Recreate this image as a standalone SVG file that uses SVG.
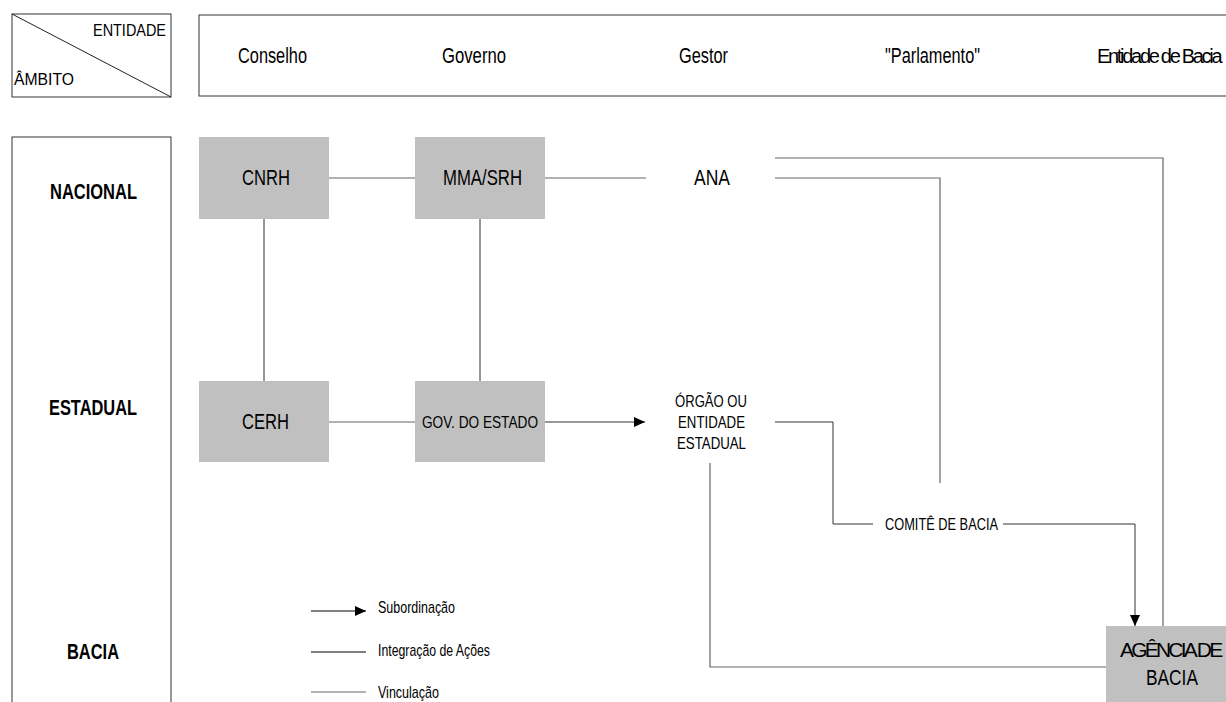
<svg xmlns="http://www.w3.org/2000/svg" width="1226" height="702" viewBox="0 0 1226 702">
<style>
.frame{fill:#fff;stroke:#333;stroke-width:1}
.box{fill:#c0c0c0;stroke:none}
.t{font-family:"Liberation Sans",Arial,sans-serif;fill:#000}
.h{font-size:22px}
.b{font-size:22px;font-weight:bold}
.n{font-size:22px}
.s{font-size:17px}
.c{fill:none;stroke:#666;stroke-width:1.2}
.k{fill:none;stroke:#333;stroke-width:1}
</style>
<defs>
<marker id="arr" markerUnits="userSpaceOnUse" markerWidth="12" markerHeight="10" refX="11" refY="5" orient="auto">
<path d="M0,0 L11,5 L0,10 Z" fill="#000"/>
</marker>
</defs>
<rect width="1226" height="702" fill="#fff"/>

<g id="corner">
<rect class="frame" x="12" y="14" width="159" height="83"/>
<line x1="12" y1="14" x2="171" y2="97" stroke="#222" stroke-width="1"/>
<text class="t s" x="93" y="36" textLength="73" lengthAdjust="spacingAndGlyphs">ENTIDADE</text>
<text class="t s" x="14" y="85" textLength="60" lengthAdjust="spacingAndGlyphs">ÂMBITO</text>
</g>

<g id="header">
<rect class="frame" x="199" y="15" width="1040" height="81"/>
<text class="t h" x="238" y="63" textLength="69" lengthAdjust="spacingAndGlyphs">Conselho</text>
<text class="t h" x="442" y="63" textLength="64" lengthAdjust="spacingAndGlyphs">Governo</text>
<text class="t h" x="679" y="63" textLength="49" lengthAdjust="spacingAndGlyphs">Gestor</text>
<text class="t h" x="885" y="63" textLength="95" lengthAdjust="spacingAndGlyphs">"Parlamento"</text>
<text class="t" x="1097" y="63" font-size="20" letter-spacing="-2.3">Entidade de Bacia</text>
</g>

<g id="ambito">
<rect class="frame" x="12" y="137" width="159" height="580"/>
<text class="t b" x="50" y="199" textLength="87" lengthAdjust="spacingAndGlyphs">NACIONAL</text>
<text class="t b" x="49" y="415" textLength="88" lengthAdjust="spacingAndGlyphs">ESTADUAL</text>
<text class="t b" x="67" y="659" textLength="52" lengthAdjust="spacingAndGlyphs">BACIA</text>
</g>

<g id="connectors">
<line class="c" x1="329" y1="178" x2="415" y2="178"/>
<line class="c" x1="545" y1="178" x2="646" y2="178"/>
<polyline class="c" points="775,178 940,178 940,483"/>
<polyline class="c" points="775,158 1163,158 1163,626"/>
<line class="k" x1="264" y1="219" x2="264" y2="381"/>
<line class="k" x1="480" y1="219" x2="480" y2="381"/>
<line class="c" x1="329" y1="422" x2="415" y2="422"/>
<line class="k" x1="545" y1="422" x2="645" y2="422" marker-end="url(#arr)"/>
<polyline class="k" points="775,422 833,422 833,524 873,524"/>
<polyline class="k" points="1003,524 1135,524 1135,626" marker-end="url(#arr)"/>
<polyline class="c" points="710,463 710,667 1106,667"/>
</g>

<g id="cnrh">
<rect class="box" x="199" y="137" width="130" height="82"/>
<text class="t n" x="242" y="185" textLength="48" lengthAdjust="spacingAndGlyphs">CNRH</text>
</g>
<g id="mma">
<rect class="box" x="415" y="137" width="130" height="82"/>
<text class="t n" x="443" y="185" textLength="79" lengthAdjust="spacingAndGlyphs">MMA/SRH</text>
</g>
<g id="ana">
<text class="t n" x="694" y="185" textLength="36" lengthAdjust="spacingAndGlyphs">ANA</text>
</g>
<g id="cerh">
<rect class="box" x="199" y="381" width="130" height="81"/>
<text class="t n" x="242" y="429" textLength="47" lengthAdjust="spacingAndGlyphs">CERH</text>
</g>
<g id="gov">
<rect class="box" x="415" y="381" width="130" height="81"/>
<text class="t s" x="422" y="428" textLength="116" lengthAdjust="spacingAndGlyphs">GOV. DO ESTADO</text>
</g>
<g id="orgao">
<text class="t s" x="675" y="407" textLength="72" lengthAdjust="spacingAndGlyphs">ÓRGÃO OU</text>
<text class="t s" x="678" y="428" textLength="67" lengthAdjust="spacingAndGlyphs">ENTIDADE</text>
<text class="t s" x="677" y="449" textLength="69" lengthAdjust="spacingAndGlyphs">ESTADUAL</text>
</g>
<g id="comite">
<text class="t s" x="885" y="530" textLength="113" lengthAdjust="spacingAndGlyphs">COMITÊ DE BACIA</text>
</g>
<g id="agencia">
<rect class="box" x="1106" y="626" width="130" height="90"/>
<text class="t" x="1120" y="657" font-size="21" letter-spacing="-2.8">AGÊNCIA DE</text>
<text class="t n" x="1146" y="685" textLength="52" lengthAdjust="spacingAndGlyphs">BACIA</text>
</g>

<g id="legend">
<line x1="311" y1="611" x2="366" y2="611" stroke="#000" stroke-width="1" marker-end="url(#arr)"/>
<text class="t s" x="378" y="613" textLength="77" lengthAdjust="spacingAndGlyphs">Subordinação</text>
<line x1="311" y1="652" x2="366" y2="652" stroke="#000" stroke-width="1"/>
<text class="t s" x="378" y="656" textLength="112" lengthAdjust="spacingAndGlyphs">Integração de Ações</text>
<line x1="311" y1="692" x2="366" y2="692" stroke="#666" stroke-width="1.2"/>
<text class="t s" x="378" y="698" textLength="61" lengthAdjust="spacingAndGlyphs">Vinculação</text>
</g>
</svg>
